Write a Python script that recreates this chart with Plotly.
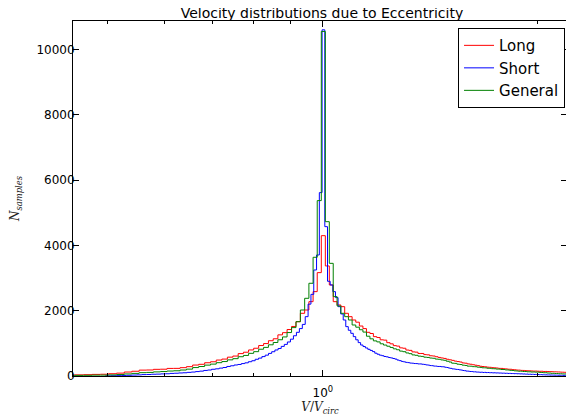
import numpy as np
import plotly.graph_objects as go

# Histogram data: counts per linear bin of V/V_circ
# Long and General share the same bins, Short uses narrower bins
LONG_GENERAL_BIN_START = 0.436
LONG_GENERAL_BIN_WIDTH = 0.013
SHORT_BIN_START = 0.4959
SHORT_BIN_WIDTH = 0.0088

long_counts = [
    30, 35, 40, 49, 54, 70, 88, 122, 145, 180,
    184, 204, 208, 232, 234, 255, 286, 335, 358, 406,
    436, 488, 518, 577, 611, 686, 728, 798, 850, 933,
    993, 1080, 1140, 1260, 1327, 1423, 1517, 1663, 1920, 2021,
    2276, 2583, 3165, 4297, 3370, 2787, 2276, 2175, 2123, 1920,
    1817, 1715, 1648, 1530, 1452, 1338, 1301, 1205, 1178, 1108,
    1098, 1021, 985, 930, 915, 862, 850, 795, 785, 738,
    731, 690, 690, 655, 648, 620, 612, 590, 568, 552,
    538, 512, 496, 478, 455, 442, 428, 400, 392, 370,
    360, 345, 330, 318, 298, 290, 282, 270, 266, 256,
    250, 244, 234, 232, 222, 218, 208, 206, 194, 190,
    182, 180, 172, 170, 165, 160, 158, 154, 150, 151,
    147, 144, 145, 139, 140, 136, 134, 133, 129, 128,
    124, 123, 118, 116, 113, 110,
]

short_counts = [
    4, 8, 11, 17, 21, 29, 34, 43, 47, 54,
    57, 65, 69, 79, 85, 93, 99, 111, 121, 135,
    149, 170, 183, 206, 220, 242, 260, 292, 313, 337,
    353, 380, 403, 437, 468, 512, 548, 594, 638, 692,
    743, 797, 843, 907, 968, 1042, 1128, 1232, 1338, 1452,
    1580, 1817, 2200, 2500, 3246, 3706, 5615, 10600, 4573, 2900,
    2787, 2583, 2400, 2123, 1900, 1715, 1511, 1400, 1307, 1205,
    1108, 1022, 948, 902, 858, 817, 783, 747, 698, 667,
    638, 622, 598, 587, 566, 554, 536, 517, 488, 470,
    446, 434, 418, 410, 396, 392, 382, 380, 370, 370,
    360, 354, 340, 334, 320, 316, 304, 302, 292, 292,
    284, 282, 268, 260, 243, 234, 218, 214, 203, 200,
    188, 182, 168, 162, 150, 148, 138, 137, 128, 128,
    120, 120, 113, 116, 108, 111, 104, 107, 100, 102,
    96, 99, 93, 95, 90, 92, 86, 88, 82, 84,
    78, 80, 75, 77, 71, 74, 68, 70, 64, 66,
    60, 63, 56, 59, 52, 55, 50, 53, 47, 49,
    44, 46, 40, 43, 37, 39, 34, 36, 31, 33,
    29, 31, 27, 28, 25, 26, 23, 25, 21, 23,
    20, 21, 19, 19,
]

general_counts = [
    15, 19, 21, 26, 27, 34, 44, 63, 80, 102,
    110, 126, 136, 152, 160, 183, 210, 258, 290, 333,
    364, 408, 442, 494, 531, 590, 630, 694, 745, 820,
    876, 955, 1026, 1110, 1196, 1330, 1482, 1663, 2021, 2379,
    2839, 3635, 5370, 10550, 4726, 3450, 2430, 2144, 1920, 1817,
    1715, 1562, 1495, 1416, 1345, 1218, 1138, 1076, 1044, 986,
    948, 912, 874, 832, 804, 762, 744, 706, 684, 646,
    634, 608, 600, 576, 568, 550, 543, 518, 512, 492,
    481, 452, 428, 392, 386, 362, 352, 332, 323, 302,
    300, 287, 284, 270, 264, 252, 250, 238, 235, 224,
    222, 212, 210, 200, 198, 186, 184, 173, 170, 158,
    154, 146, 146, 138, 137, 129, 128, 122, 123, 118,
    119, 110, 109, 100, 100, 91, 90, 82, 82, 76,
    75, 70, 69, 64, 63, 59,
]

series = [
    ("Long", long_counts, LONG_GENERAL_BIN_START, LONG_GENERAL_BIN_WIDTH, "#ff0000"),
    ("Short", short_counts, SHORT_BIN_START, SHORT_BIN_WIDTH, "#0000ff"),
    ("General", general_counts, LONG_GENERAL_BIN_START, LONG_GENERAL_BIN_WIDTH, "#008000"),
]

X_TICKS = [1]
X_TICK_TEXT = ["10<sup>0</sup>"]
X_MINOR_TICKS = [0.5, 0.6, 0.7, 0.8, 0.9, 2]
Y_TICKS = [0, 2000, 4000, 6000, 8000, 10000]
Y_TICK_TEXT = ["0", "2000", "4000", "6000", "8000", "10000"]


def step_outline(start, width, counts):
    # matplotlib histtype="step" style outline
    edges = start + width * np.arange(len(counts) + 1)
    xs = np.concatenate([[edges[0]], edges[:-1], [edges[-1]]])
    ys = np.concatenate([[0], counts, [0]])
    return xs, ys


fig = go.Figure()
for name, counts, start, width, color in series:
    xs, ys = step_outline(start, width, counts)
    fig.add_trace(go.Scatter(
        x=xs, y=ys, mode="lines", name=name,
        line=dict(color=color, width=1, shape="hv"),
    ))

# the page body adds an 8px offset, so the figure is 8px smaller on each side
fig.update_layout(
    width=566,
    height=408,
    margin=dict(l=65, r=7, t=13, b=40),
    paper_bgcolor="white",
    plot_bgcolor="white",
    font=dict(family="DejaVu Sans", size=12, color="black"),
    title=dict(
        text="Velocity distributions due to Eccentricity",
        x=0.5547, xanchor="center", y=1.0, yanchor="top",
        font=dict(size=14, color="black"),
    ),
    showlegend=True,
    legend=dict(
        x=0.996, y=0.98, xanchor="right", yanchor="top",
        bordercolor="black", borderwidth=1, bgcolor="white",
        font=dict(size=15),
        itemwidth=30,
    ),
)

fig.update_xaxes(
    type="log",
    range=[-0.35, 0.342],
    automargin=False,
    tickmode="array", tickvals=X_TICKS, ticktext=X_TICK_TEXT,
    ticks="inside", ticklen=6, tickcolor="black", ticklabelstandoff=6,
    minor=dict(tickmode="array", tickvals=X_MINOR_TICKS, ticks="inside",
               ticklen=3, tickcolor="black", showgrid=False),
    showline=True, linecolor="black", linewidth=1, mirror="ticks",
    showgrid=False, zeroline=False,
    title=dict(text="<i>V</i>/<i>V<sub>circ</sub></i>",
               font=dict(family="DejaVu Serif", size=12, color="#222"),
               standoff=7),
)

fig.update_yaxes(
    range=[0, 10870],
    automargin=False,
    tickmode="array", tickvals=Y_TICKS, ticktext=Y_TICK_TEXT,
    ticks="inside", ticklen=6, tickcolor="black", ticklabelstandoff=-5,
    showline=True, linecolor="black", linewidth=1, mirror="ticks",
    showgrid=False, zeroline=False,
    title=dict(text="<i>N<sub>samples</sub></i>",
               font=dict(family="DejaVu Serif", size=12, color="#222"),
               standoff=15),
)

fig.write_html("out.html")
